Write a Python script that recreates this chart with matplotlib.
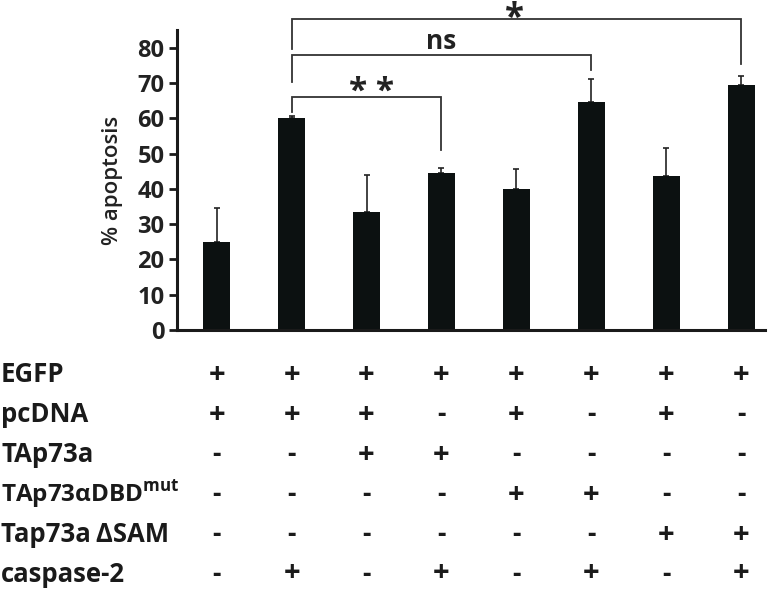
import matplotlib
matplotlib.use("Agg")
import matplotlib.pyplot as plt
import matplotlib.transforms as mtransforms
import numpy as np

plt.rcParams['font.family'] = ['Open Sans', 'DejaVu Sans']
plt.rcParams['mathtext.fontset'] = 'custom'
plt.rcParams['mathtext.rm'] = 'Open Sans'
plt.rcParams['mathtext.bf'] = 'Open Sans:bold'

# data
apoptosis = [25, 60, 33.5, 44.5, 40, 64.5, 43.5, 69.5]
errors = [9.5, 0.5, 10.5, 1.5, 5.5, 6.5, 8, 2.5]

row_labels = ['EGFP', 'pcDNA', 'TAp73a', r'TAp73αDBD$^{\mathbf{mut}}$', 'Tap73a\u2009ΔSAM', 'caspase-2']
conditions = [
    ['+', '+', '+', '+', '+', '+', '+', '+'],
    ['+', '+', '+', '-', '+', '-', '+', '-'],
    ['-', '-', '+', '+', '-', '-', '-', '-'],
    ['-', '-', '-', '-', '+', '+', '-', '-'],
    ['-', '-', '-', '-', '-', '-', '+', '+'],
    ['-', '+', '-', '+', '-', '+', '-', '+'],
]

# (left bar, right bar, bracket height, left leg end, right leg end)
brackets = [
    (1, 3, 66.0, 61.8, 51.1),
    (1, 5, 78.0, 70.3, 73.6),
    (1, 7, 88.0, 79.7, 75.4),
]

W, H = 768, 590
fig = plt.figure(figsize=(W / 100, H / 100), dpi=100)
ax = fig.add_axes([177 / W, 1 - 330 / H, (765 - 177) / W, 300 / H])

x = np.arange(len(apoptosis))
bar_color = '#0c1111'
ax.bar(x, apoptosis, width=0.36, color=bar_color, zorder=2)
ax.errorbar(x, apoptosis, yerr=[np.zeros(len(errors)), errors], fmt='none',
            ecolor='#222222', elinewidth=1.2, capsize=2.5, capthick=1.2, zorder=1)

ax.set_xlim(-0.53, 7.32)
ax.set_ylim(0, 85)
ax.set_yticks(range(0, 81, 10))
ax.set_xticks([])
ax.spines['top'].set_visible(False)
ax.spines['right'].set_visible(False)
for side in ['left', 'bottom']:
    ax.spines[side].set_linewidth(2.2)
    ax.spines[side].set_color('#1a1a1a')
ax.tick_params(axis='y', length=6, width=2, pad=3, labelsize=17, color='#1a1a1a')
for lbl in ax.get_yticklabels():
    lbl.set_fontweight('bold')
    lbl.set_color('#222222')
ax.set_ylabel('% apoptosis', fontsize=16, fontweight='semibold', color='#222222', labelpad=10)

# significance brackets
for x0, x1, top, l_end, r_end in brackets:
    ax.plot([x0, x0, x1, x1], [l_end, top, top, r_end], color='#333333', lw=1.3,
            clip_on=False, solid_joinstyle='miter')

ax.text(2.07, 64.8, '* *', ha='center', va='baseline', fontsize=24,
        fontweight='bold', color='#222222')
ax.text(2.99, 79.5, 'ns', ha='center', va='baseline', fontsize=19,
        fontweight='bold', color='#222222')
ax.text(3.97, 85.5, '*', ha='center', va='baseline', fontsize=25,
        fontweight='bold', color='#222222', clip_on=False)

# condition table under the chart
row_y = [375, 415, 455, 495, 535, 574]
trans = mtransforms.blended_transform_factory(ax.transData, fig.transFigure)
for label, ry, marks in zip(row_labels, row_y, conditions):
    size = 17.5 if 'DBD' in label else 18.5
    fig.text(1 / W, 1 - ry / H, label, ha='left', va='center', fontsize=size,
             fontweight='bold', color='#1a1a1a')
    for i, m in enumerate(marks):
        ax.text(x[i], 1 - ry / H, m, transform=trans, ha='center', va='center',
                fontsize=21 if m == '+' else 19, fontweight='bold', color='#1a1a1a')

fig.savefig('out.png', dpi=100)
